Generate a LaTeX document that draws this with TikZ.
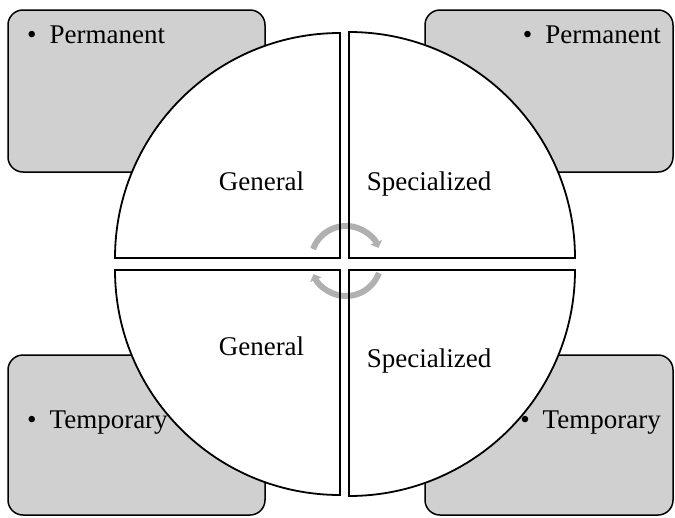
\documentclass[tikz,border=0pt]{standalone}
\usepackage{fontspec}
\setmainfont{Liberation Serif}
\usetikzlibrary{arrows.meta}
\definecolor{boxfill}{RGB}{208,208,208}
\definecolor{arcgray}{RGB}{176,176,176}
\tikzset{
  sidebox/.style={draw=black, line width=1.5pt, fill=boxfill, rounded corners=15pt},
  quadfill/.style={fill=white},
  quadline/.style={draw=black, line width=1.8pt},
  cyclearrow/.style={draw=arcgray, line width=6pt, -{Triangle[length=6pt,width=12pt]}},
  txt/.style={font=\fontsize{27}{30}\selectfont, inner sep=0pt},
}
\newcommand{\qTL}{(340,-258) -- (115,-258) arc (180:90:225) -- cycle}
\newcommand{\qTR}{(349,-258) -- (349,-32) arc (90:0:226) -- cycle}
\newcommand{\qBL}{(340,-270) -- (115,-270) arc (180:270:225) -- cycle}
\newcommand{\qBR}{(349,-270) -- (575,-270) arc (0:-90:226) -- cycle}
\begin{document}
\begin{tikzpicture}[x=1pt,y=1pt]
\useasboundingbox (0,0) rectangle (675,-517);
% side boxes
\path[sidebox] (8,-10) rectangle (265,-172);
\path[sidebox] (425,-10) rectangle (673,-172);
\path[sidebox] (8,-355) rectangle (265,-515);
\path[sidebox] (425,-355) rectangle (673,-515);
% quadrant fills
\path[quadfill] \qTL;
\path[quadfill] \qTR;
\path[quadfill] \qBL;
\path[quadfill] \qBR;
% cycle arrows
\coordinate (cc) at (346,-261);
\draw[cyclearrow] ([shift={(160:35)}]cc) arc (160:22:35);
\draw[cyclearrow] ([shift={(-20:35)}]cc) arc (-20:-158:35);
% quadrant borders
\path[quadline] \qTL;
\path[quadline] \qTR;
\path[quadline] \qBL;
\path[quadline] \qBR;
% labels
\node[txt, anchor=base] (g1) at (261.5,-190) {General};
\node[txt, anchor=base] (s1) at (429,-190) {Specialized};
\node[txt, anchor=base] (g2) at (261.5,-355) {General};
\node[txt, anchor=base] (s2) at (429,-367) {Specialized};
\node[txt, anchor=base west] (p1) at (27,-43) {\textbullet\hspace{13pt}Permanent};
\node[txt, anchor=base east] (p2) at (661,-43) {\textbullet\hspace{13pt}Permanent};
\node[txt, anchor=base west] (t1) at (27,-428) {\textbullet\hspace{13pt}Temporary};
\node[txt, anchor=base east] (t2) at (661,-428) {\textbullet\hspace{13pt}Temporary};
\end{tikzpicture}
\end{document}
